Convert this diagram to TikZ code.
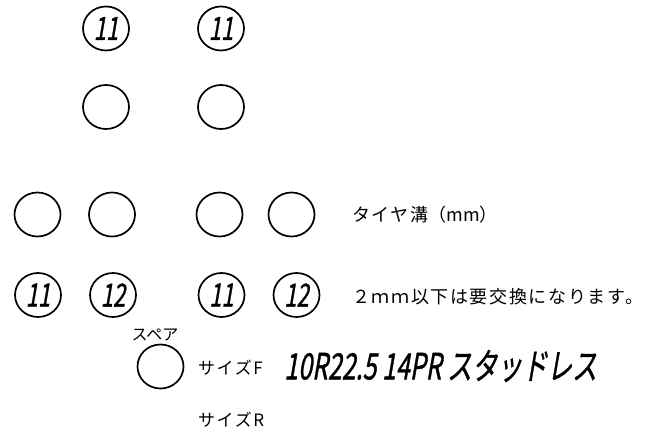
\documentclass[tikz,border=0pt]{standalone}
\usepackage{fontspec}
\newfontfamily\jp{Noto Sans CJK JP}
\newfontfamily\jpsp[LetterSpace=9]{Noto Sans CJK JP}
\newfontfamily\hand[FakeSlant=0.25,FakeBold=1.2]{Noto Sans CJK JP}
\usetikzlibrary{shapes.geometric}
\tikzset{
  tire/.style={draw, ellipse, line width=1.7pt, minimum width=46pt, minimum height=44pt, inner sep=0pt},
  num/.style={font=\hand\fontsize{22}{22}\selectfont},
  lbl/.style={anchor=west, inner sep=0pt, font=\jpsp\fontsize{18}{18}\selectfont},
}
\newcommand{\tall}[1]{\scalebox{1}[1.45]{#1}}
\begin{document}
\begin{tikzpicture}[x=1pt,y=-1pt]
\useasboundingbox (0,0) rectangle (652,438);
% row 1
\node[tire, num] (a1) at (106,28.5) {\tall{11}};
\node[tire, num] (a2) at (221,28.5) {\tall{11}};
% row 2
\node[tire] (b1) at (106,107) {};
\node[tire] (b2) at (221,107) {};
% row 3
\node[tire] (c1) at (37.5,214.5) {};
\node[tire] (c2) at (112,214.5) {};
\node[tire] (c3) at (219.5,214.5) {};
\node[tire] (c4) at (291.5,214.5) {};
% row 4
\node[tire, num] (d1) at (38,295) {\tall{11}};
\node[tire, num] (d2) at (113,295) {\tall{12}};
\node[tire, num] (d3) at (221.5,295) {\tall{11}};
\node[tire, num] (d4) at (296.5,295) {\tall{12}};
% spare
\node[tire] (sp) at (160.5,366.5) {};
\node[inner sep=0pt, font=\jp\fontsize{16}{16}\selectfont] (splbl) at (155,335) {スペア};
% texts
\node[lbl] (t1) at (352,215) {タイヤ溝{\jp（mm）}};
\node[lbl] (t2) at (352,297) {２ｍｍ以下は要交換になります。};
\node[lbl, font=\jpsp\fontsize{17}{17}\selectfont] (t3) at (198,368) {サイズF};
\node[anchor=west, inner sep=0pt, font=\hand\fontsize{25}{25}\selectfont] (t4) at (284,366) {\tall{10R22.5 14PR スタッドレス}};
\node[lbl, font=\jpsp\fontsize{17}{17}\selectfont] (t5) at (198,420) {サイズR};
\end{tikzpicture}
\end{document}
